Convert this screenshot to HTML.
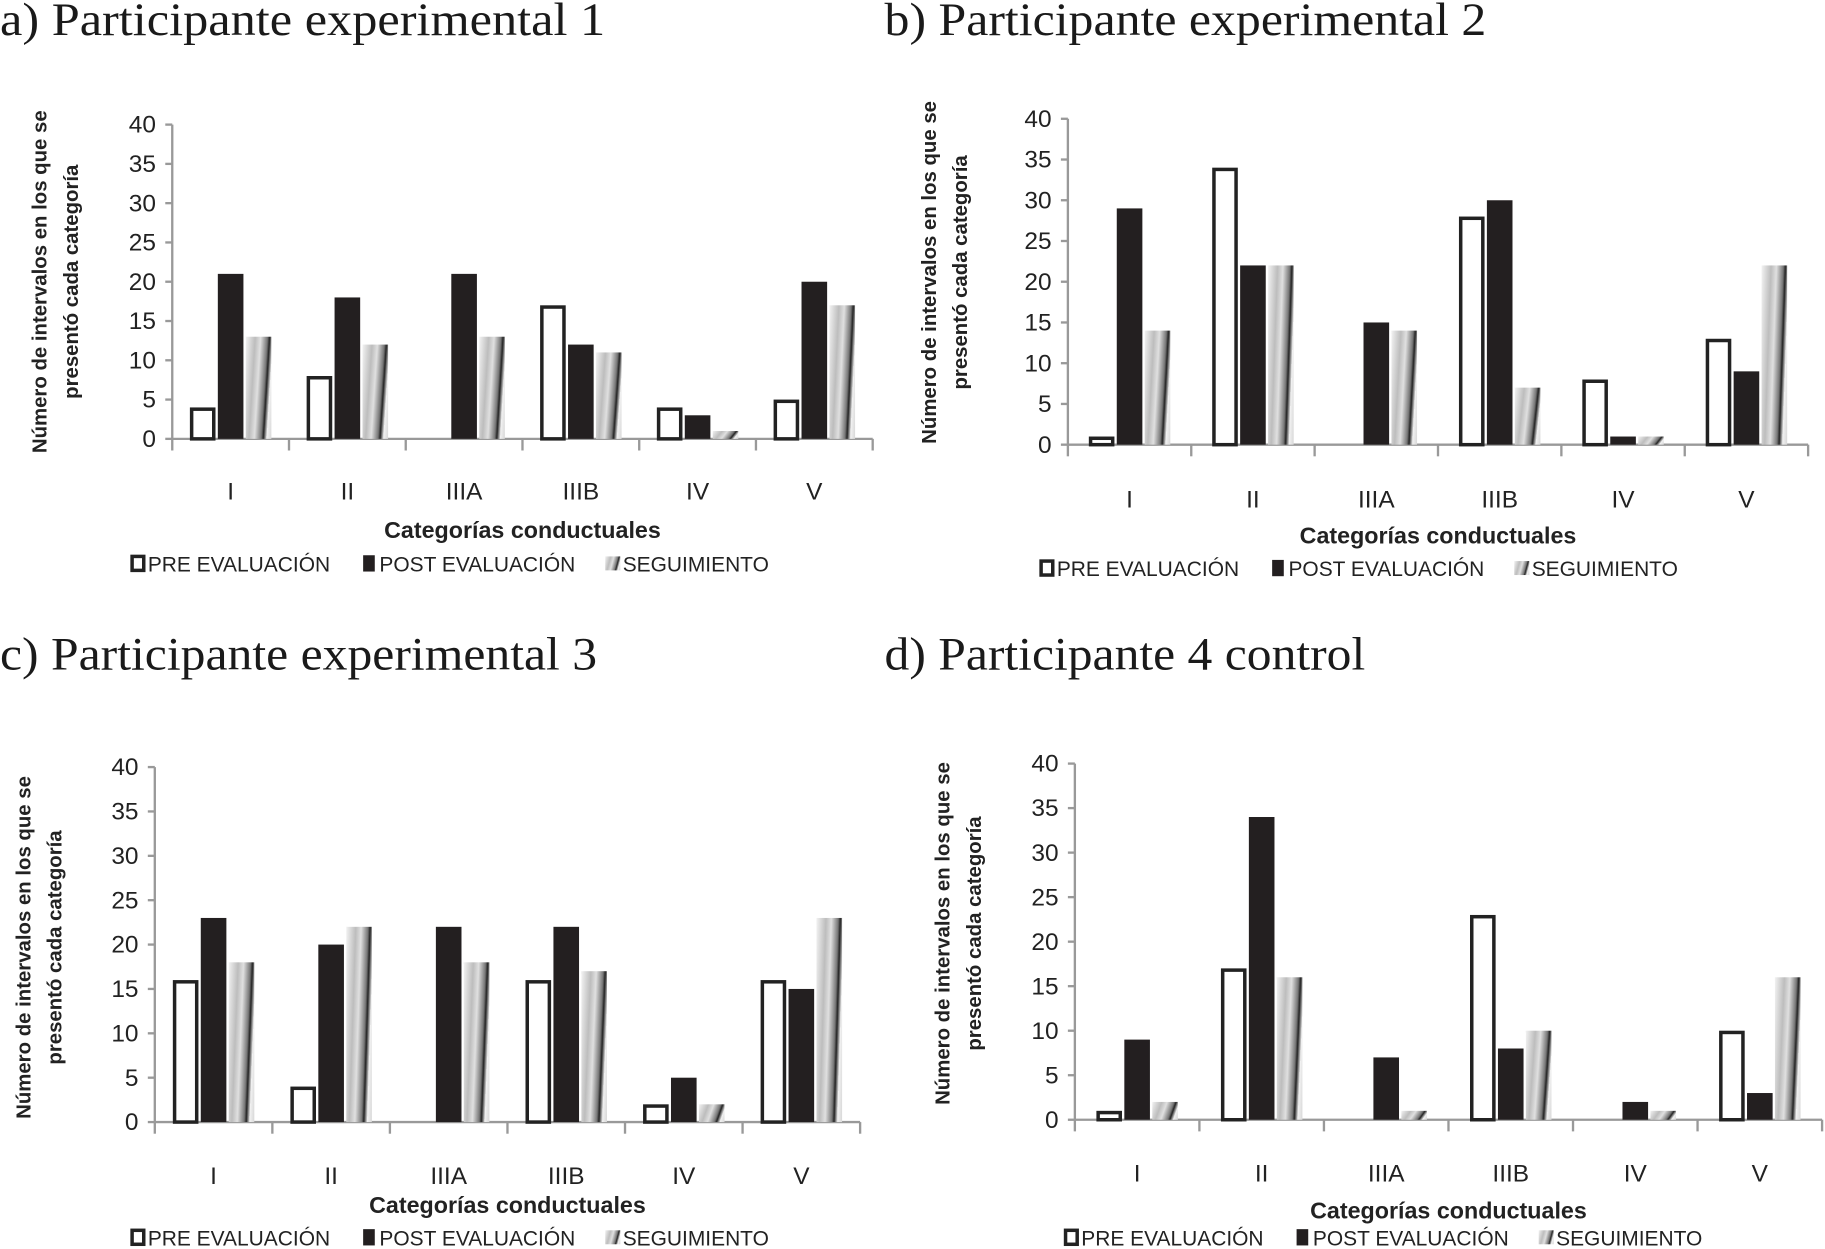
<!DOCTYPE html>
<html><head><meta charset="utf-8"><style>
html,body{margin:0;padding:0;background:#fff;}
svg{display:block;}
.ttl{font-family:"Liberation Serif",serif;font-size:40px;fill:#1a1a1a;}
.tk{font-family:"Liberation Sans Narrow","Liberation Sans",sans-serif;font-size:21px;fill:#222;}
.yl{font-family:"Liberation Sans",sans-serif;font-size:17.5px;font-weight:bold;fill:#222;}
.xt{font-family:"Liberation Sans Narrow","Liberation Sans",sans-serif;font-size:20px;font-weight:bold;fill:#222;}
.lg{font-family:"Liberation Sans Narrow","Liberation Sans",sans-serif;font-size:18px;fill:#222;}
</style></head><body>
<svg id="fig" width="1825" height="1249" viewBox="0 0 1568 1073" xmlns="http://www.w3.org/2000/svg">
<defs>
<linearGradient id="segGrad" x1="0" y1="0" x2="1" y2="0.25" spreadMethod="repeat">
<stop offset="0" stop-color="#f2f2f2"/><stop offset="0.35" stop-color="#bdbdbd"/><stop offset="0.55" stop-color="#e0e0e0"/><stop offset="0.8" stop-color="#777"/><stop offset="0.88" stop-color="#222"/><stop offset="1" stop-color="#ddd"/>
</linearGradient>
</defs>
</svg>
<script>
const categories = ["I","II","IIIA","IIIB","IV","V"];
const yTicks = [0,5,10,15,20,25,30,35,40];
const preA = [4,8,0,17,4,5];
const postA = [21,18,21,12,3,20];
const segA = [13,12,13,11,1,17];
const preB = [1,34,0,28,8,13];
const postB = [29,22,15,30,1,9];
const segB = [14,22,14,7,1,22];
const preC = [16,4,0,16,2,16];
const postC = [23,20,22,22,5,15];
const segC = [18,22,18,17,2,23];
const preD = [1,17,0,23,0,10];
const postD = [9,34,7,8,2,3];
const segD = [2,16,1,10,1,16];

const svg = document.getElementById('fig');
const NS = 'http://www.w3.org/2000/svg';
function mk(tag, attrs, parent){const e=document.createElementNS(NS,tag);for(const k in attrs)e.setAttribute(k,attrs[k]);(parent||svg).appendChild(e);return e;}

function drawChart(id, L, pre, post, seg){
  const g = mk('g',{});
  
  
  const t = mk('text',{x:L.tx,y:L.ty,class:'ttl',textLength:L.tl,lengthAdjust:'spacingAndGlyphs'},g); t.textContent=L.title;
  
  
  const y = v => L.y0 - (L.y0-L.y40)*v/40;
  const cw = L.cw;
  const x = i => L.ax + cw*(i+0.5);
  const right = L.ax + cw*categories.length;
  const ya = mk('line',{x1:L.ax,y1:L.y40,x2:L.ax,y2:L.y0,stroke:'#999','stroke-width':2},g);
  
  
  yTicks.forEach(v=>{
    mk('line',{x1:L.ax-6,y1:y(v),x2:L.ax,y2:y(v),stroke:'#999','stroke-width':2},g);
    const tt = mk('text',{x:L.ax-14,y:y(v)+7,class:'tk','text-anchor':'end'},g); tt.textContent=v;
    
    
  });
  const xa = mk('line',{x1:L.ax,y1:L.y0,x2:right,y2:L.y0,stroke:'#999','stroke-width':2},g);
  
  
  for(let i=0;i<=categories.length;i++){
    mk('line',{x1:L.ax+cw*i,y1:L.y0,x2:L.ax+cw*i,y2:L.y0+10,stroke:'#999','stroke-width':2},g);
  }
  const bw = L.bw;
  categories.forEach((c,i)=>{
    const cx = x(i);
    const lt = mk('text',{x:cx,y:L.xly,class:'tk','text-anchor':'middle'},g); lt.textContent=c;
    
    
    if(pre[i]>0){
      const r = mk('rect',{x:cx-bw*1.5-2+1.5,y:y(pre[i])+1.5,width:bw-3,height:y(0)-y(pre[i])-1.5,fill:'#fff',stroke:'#222','stroke-width':3},g);
      
      
    }
    if(post[i]>0){
      const r = mk('rect',{x:cx-bw/2,y:y(post[i]),width:bw,height:y(0)-y(post[i]),fill:'#231f20'},g);
      
      
    }
    if(seg[i]>0){
      const r = mk('rect',{x:cx+bw/2+2,y:y(seg[i]),width:bw,height:y(0)-y(seg[i]),fill:'url(#segGrad)'},g);
      
      
    }
  });
  const yl = mk('text',{class:'yl','text-anchor':'middle',transform:`translate(${L.ylx},${L.ylc}) rotate(-90)`},g);
  
  
  const s1 = mk('tspan',{x:0,y:0},yl); s1.textContent='Número de intervalos en los que se';
  const s2 = mk('tspan',{x:0,y:27},yl); s2.textContent='presentó cada categoría';
  const xt = mk('text',{x:(L.ax+right)/2,y:L.xty,class:'xt','text-anchor':'middle'},g); xt.textContent='Categorías conductuales';
  
  
  const lx = L.lgx, ly = L.lgy;
  const lg = mk('g',{},g);
  
  
  mk('rect',{x:lx+1.5,y:ly-13,width:10,height:12,fill:'#fff',stroke:'#222','stroke-width':3},lg);
  let tx = mk('text',{x:lx+15,y:ly,class:'lg'},lg); tx.textContent='PRE EVALUACIÓN';
  
  
  mk('rect',{x:lx+200,y:ly-14,width:10,height:14,fill:'#231f20'},lg);
  tx = mk('text',{x:lx+214,y:ly,class:'lg'},lg); tx.textContent='POST EVALUACIÓN';
  
  
  mk('rect',{x:lx+408,y:ly-13,width:13,height:12,fill:'url(#segGrad)'},lg);
  tx = mk('text',{x:lx+423,y:ly,class:'lg'},lg); tx.textContent='SEGUIMIENTO';
  
  
}

drawChart('a',{title:'a) Participante  experimental 1',tl:520,tx:0,ty:30,ax:148,y0:377,y40:107,cw:100.3,bw:22,xly:429,xty:462,lgx:112,lgy:491,ylx:40,ylc:242},preA,postA,segA);
drawChart('b',{title:'b) Participante experimental 2',tl:517,tx:760,ty:30,ax:917.5,y0:382,y40:102,cw:106,bw:22,xly:436,xty:467,lgx:893,lgy:495,ylx:804,ylc:234},preB,postB,segB);
drawChart('c',{title:'c) Participante experimental 3',tl:513,tx:0,ty:575,ax:133,y0:964,y40:659,cw:101,bw:22,xly:1017,xty:1042,lgx:112,lgy:1070,ylx:26,ylc:814},preC,postC,segC);
drawChart('d',{title:'d) Participante 4 control',tl:413,tx:760,ty:575,ax:923.5,y0:962,y40:656,cw:107,bw:22,xly:1015,xty:1047,lgx:914,lgy:1070,ylx:816,ylc:802},preD,postD,segD);
</script>
</body></html>
